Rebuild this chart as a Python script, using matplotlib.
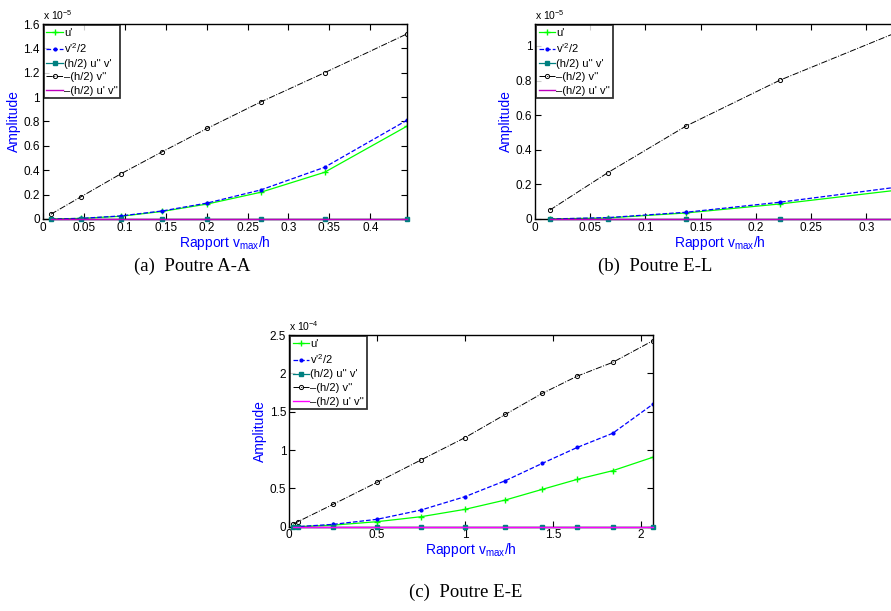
import numpy as np
import matplotlib
matplotlib.use('Agg')
import matplotlib.pyplot as plt

plt.rcParams['font.family'] = ['Liberation Sans', 'DejaVu Sans']
plt.rcParams['mathtext.default'] = 'regular'

# values are in units of 1e-5 (a, b) and 1e-4 (c)
labels = ["u'", "v'$^2$/2", "(h/2) u'' v'", "\u2013(h/2) v''", "\u2013(h/2) u' v''"]

# (a) Poutre A-A
a_x = [0.01, 0.047, 0.095, 0.146, 0.201, 0.266, 0.344, 0.445]
a_u = [0, 0.005, 0.022, 0.062, 0.123, 0.219, 0.383, 0.763]
a_v2 = [0, 0.005, 0.025, 0.066, 0.131, 0.238, 0.424, 0.812]
a_huv = [0, 0, 0, 0, 0, 0, 0, 0]
a_hv = [0.039, 0.183, 0.369, 0.552, 0.744, 0.96, 1.2, 1.52]
a_huv2 = [0, 0, 0, 0, 0, 0, 0, 0]

# (b) Poutre E-L
b_x = [0.0136, 0.066, 0.137, 0.222, 0.335]
b_u = [0, 0.006, 0.035, 0.087, 0.172]
b_v2 = [0, 0.008, 0.039, 0.097, 0.19]
b_huv = [0, 0, 0, 0, 0]
b_hv = [0.052, 0.268, 0.538, 0.803, 1.098]
b_huv2 = [0, 0, 0, 0, 0]

# (c) Poutre E-E
c_x = [0.025, 0.05, 0.25, 0.5, 0.75, 1.0, 1.23, 1.44, 1.64, 1.84, 2.068]
c_u = [0, 0.001, 0.02, 0.065, 0.13, 0.226, 0.348, 0.487, 0.618, 0.73, 0.905]
c_v2 = [0, 0.001, 0.03, 0.096, 0.217, 0.391, 0.6, 0.826, 1.035, 1.218, 1.596]
c_huv = [0] * 11
c_hv = [0.035, 0.065, 0.291, 0.578, 0.87, 1.161, 1.465, 1.739, 1.965, 2.143, 2.425]
c_huv2 = [0] * 11


def panel(ax, x, u, v2, huv, hv, huv2, xlim, ylim, xticks, yticks, expo, magenta, caption, capx):
    ax.plot(x, u, '-', color=(0, 1, 0), marker='+', ms=4, lw=0.9, label=labels[0])
    ax.plot(x, v2, '--', color=(0, 0, 1), marker='.', ms=4, lw=0.9, label=labels[1])
    ax.plot(x, huv, '-', color=(0, 0.5, 0.5), marker='s', ms=2.5, lw=0.9, label=labels[2],
            zorder=3, clip_on=False)
    ax.plot(x, hv, '-.', color='k', marker='o', ms=3, mfc='none', mew=0.7, lw=0.7, label=labels[3])
    ax.plot(x, huv2, '-', color=magenta, lw=1.0, label=labels[4], zorder=3.1, clip_on=False)
    ax.set_xlim(xlim)
    ax.set_ylim(ylim)
    ax.set_xticks(xticks)
    ax.set_yticks(yticks)
    ax.set_xticklabels(['%g' % t for t in xticks])
    ax.set_yticklabels(['%g' % t for t in yticks])
    ax.tick_params(direction='in', length=4, top=True, right=True, labelsize=8.5, pad=2)
    for s in ax.spines.values():
        s.set_linewidth(1.0)
    ax.set_xlabel('Rapport v$_{max}$/h', color='blue', fontsize=10, labelpad=0)
    ax.set_ylabel('Amplitude', color='blue', fontsize=10, labelpad=2)
    ax.text(0, 1.012, 'x 10$^{%d}$' % expo, transform=ax.transAxes, fontsize=7.5, va='bottom')
    leg = ax.legend(loc='upper left', bbox_to_anchor=(0.004, 0.993), fontsize=8,
                    handlelength=1.5, handletextpad=0.1, labelspacing=0.32,
                    borderpad=0.2, borderaxespad=0, fancybox=False, frameon=True)
    leg.get_frame().set_edgecolor('k')
    leg.get_frame().set_linewidth(1.3)
    fig.text(capx[0], capx[1], caption, fontsize=13.5, family='Liberation Serif',
             ha='center', va='center')


fig = plt.figure(figsize=(8.91, 6.11), dpi=100)

ax1 = fig.add_axes([0.0479, 0.6416, 0.4092, 0.3191])
panel(ax1, a_x, a_u, a_v2, a_huv, a_hv, a_huv2, (0, 0.445), (0, 1.6),
      [0, 0.05, 0.1, 0.15, 0.2, 0.25, 0.3, 0.35, 0.4],
      [0, 0.2, 0.4, 0.6, 0.8, 1, 1.2, 1.4, 1.6], -5, (0.75, 0, 0.75),
      '(a)  Poutre A-A', (192 / 891, 1 - 266 / 611))

ax2 = fig.add_axes([0.6004, 0.6416, 0.4153, 0.3191])
panel(ax2, b_x, b_u, b_v2, b_huv, b_hv, b_huv2, (0, 0.335), (0, 1.127),
      [0, 0.05, 0.1, 0.15, 0.2, 0.25, 0.3],
      [0, 0.2, 0.4, 0.6, 0.8, 1], -5, (0.75, 0, 0.75),
      '(b)  Poutre E-L', (655 / 891, 1 - 266 / 611))

ax3 = fig.add_axes([0.3244, 0.138, 0.4082, 0.3137])
panel(ax3, c_x, c_u, c_v2, c_huv, c_hv, c_huv2, (0, 2.068), (0, 2.5),
      [0, 0.5, 1, 1.5, 2],
      [0, 0.5, 1, 1.5, 2, 2.5], -4, (1, 0, 1),
      '(c)  Poutre E-E', (466 / 891, 1 - 592 / 611))

fig.savefig('out.png', dpi=100)
